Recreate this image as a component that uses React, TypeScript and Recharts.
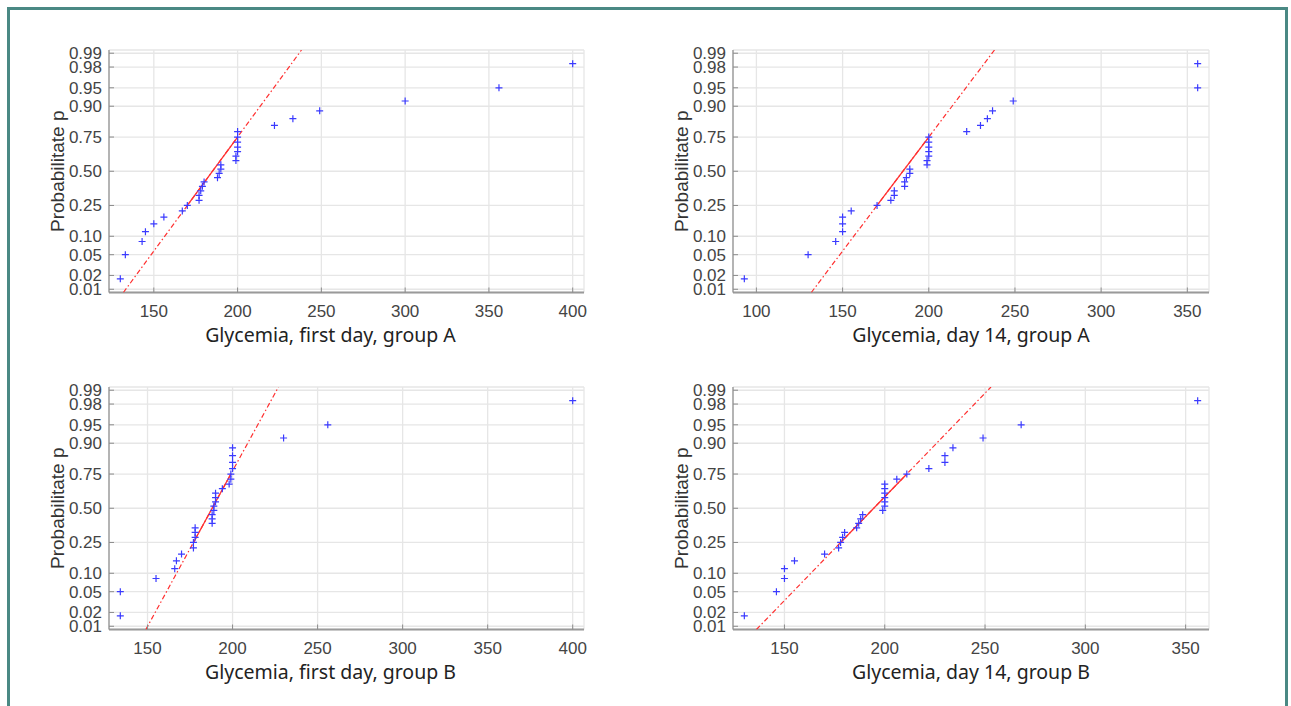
import React from 'react';
import { ScatterChart, Scatter, XAxis, YAxis, CartesianGrid } from 'recharts';

const probabilityLevels = [
  0.017, 0.05, 0.083, 0.117, 0.15, 0.183, 0.217, 0.25, 0.283, 0.317,
  0.35, 0.383, 0.417, 0.45, 0.483, 0.517, 0.55, 0.583, 0.617, 0.65,
  0.683, 0.717, 0.75, 0.783, 0.817, 0.85, 0.883, 0.917, 0.95, 0.983,
];

// Sorted glycemia values
const glycemiaFirstDayA = [
  130, 133, 143, 145, 150, 156, 167, 170, 177, 177,
  178, 179, 180, 188, 189, 190, 190, 199, 199, 200,
  200, 200, 200, 200, 222, 233, 249, 300, 356, 400,
];
const glycemiaDay14A = [
  93, 130, 146, 150, 150, 150, 155, 170, 178, 180,
  180, 186, 186, 187, 189, 189, 199, 199, 200, 200,
  200, 200, 200, 222, 230, 234, 237, 249, 356, 356,
];
const glycemiaFirstDayB = [
  134, 134, 155, 166, 167, 170, 177, 177, 178, 178,
  178, 188, 188, 188, 189, 189, 190, 190, 190, 194,
  198, 199, 199, 200, 200, 200, 200, 230, 256, 400,
];
const glycemiaDay14B = [
  130, 146, 150, 150, 155, 170, 177, 178, 179, 180,
  186, 187, 188, 189, 199, 200, 200, 200, 200, 200,
  200, 206, 211, 222, 230, 230, 234, 249, 268, 356,
];

const xTicksFirstDayA = [150, 200, 250, 300, 350, 400];
const xTicksDay14A = [100, 150, 200, 250, 300, 350];
const xTicksFirstDayB = [150, 200, 250, 300, 350, 400];
const xTicksDay14B = [150, 200, 250, 300, 350];

const yTickLabels = ['0.01', '0.02', '0.05', '0.10', '0.25', '0.50', '0.75', '0.90', '0.95', '0.98', '0.99'];

const titles = [
  'Glycemia, first day, group A',
  'Glycemia, day 14, group A',
  'Glycemia, first day, group B',
  'Glycemia, day 14, group B',
];
const yLabel = 'Probabilitate p';

// inverse standard normal CDF (normal probability axis)
function probit(p: number): number {
  const a = [-39.69683028665376, 220.9460984245205, -275.9285104469687, 138.357751867269, -30.66479806614716, 2.506628277459239];
  const b = [-54.47609879822406, 161.5858368580409, -155.6989798598866, 66.80131188771972, -13.28068155288572];
  const c = [-0.007784894002430293, -0.3223964580411365, -2.400758277161838, -2.549671348529838, 4.374664141464968, 2.938163982698783];
  const d = [0.007784695709041462, 0.3224671290700398, 2.445134137142996, 3.754408661907416];
  const pl = 0.02425;
  if (p < pl) {
    const q = Math.sqrt(-2 * Math.log(p));
    return (((((c[0] * q + c[1]) * q + c[2]) * q + c[3]) * q + c[4]) * q + c[5]) / ((((d[0] * q + d[1]) * q + d[2]) * q + d[3]) * q + 1);
  }
  if (p > 1 - pl) {
    const q = Math.sqrt(-2 * Math.log(1 - p));
    return -(((((c[0] * q + c[1]) * q + c[2]) * q + c[3]) * q + c[4]) * q + c[5]) / ((((d[0] * q + d[1]) * q + d[2]) * q + d[3]) * q + 1);
  }
  const q = p - 0.5;
  const r = q * q;
  return ((((((a[0] * r + a[1]) * r + a[2]) * r + a[3]) * r + a[4]) * r + a[5]) * q) / (((((b[0] * r + b[1]) * r + b[2]) * r + b[3]) * r + b[4]) * r + 1);
}

const Z_EDGE = 2.39;
const yTicks = yTickLabels.map((l) => probit(parseFloat(l)));
const formatY = (v: number) => {
  let best = 0;
  yTicks.forEach((t, i) => {
    if (Math.abs(t - v) < Math.abs(yTicks[best] - v)) best = i;
  });
  return yTickLabels[best];
};

const buildPoints = (values: number[]) => values.map((x, i) => ({ x, y: probit(probabilityLevels[i]) }));

const buildFit = (values: number[]) => {
  const i1 = probabilityLevels.indexOf(0.25);
  const i3 = probabilityLevels.indexOf(0.75);
  const q1 = values[i1];
  const q3 = values[i3];
  const z1 = probit(0.25);
  const z3 = probit(0.75);
  const slope = (q3 - q1) / (z3 - z1);
  const xAt = (z: number) => q1 + (z - z1) * slope;
  return {
    solid: [{ x: q1, y: z1 }, { x: q3, y: z3 }],
    full: [{ x: xAt(-Z_EDGE), y: -Z_EDGE }, { x: xAt(Z_EDGE), y: Z_EDGE }],
  };
};

const xDomain = (values: number[]): [number, number] => {
  const lo = Math.min(...values);
  const hi = Math.max(...values);
  const pad = (hi - lo) * 0.025;
  return [lo - pad, hi + pad];
};

const TICK_FONT = '"Liberation Sans", Arial, Helvetica, sans-serif';
const TICK_COLOR = '#444444';
const AXIS_COLOR = '#8c8c8c';

const YTick = (props: any) => {
  const { x, y, payload } = props;
  return (
    <g>
      <line x1={x + 7} x2={x + 12} y1={y} y2={y} stroke={AXIS_COLOR} strokeWidth={1} />
      <text x={x} y={y} dy={6} textAnchor="end" fontSize={17} fontFamily={TICK_FONT} fill={TICK_COLOR}>
        {formatY(payload.value)}
      </text>
    </g>
  );
};

const XTick = (props: any) => {
  const { x, y, payload } = props;
  return (
    <g>
      <line x1={x} x2={x} y1={y - 12} y2={y - 17} stroke={AXIS_COLOR} strokeWidth={1} />
      <text x={x} y={y} dy={12.5} textAnchor="middle" fontSize={17} fontFamily={TICK_FONT} fill={TICK_COLOR}>
        {payload.value}
      </text>
    </g>
  );
};

const PlusShape = (props: any) => {
  const { cx, cy } = props;
  if (cx == null || cy == null) return <g />;
  return (
    <path
      d={`M${cx - 3.5},${cy}H${cx + 3.5}M${cx},${cy - 3.5}V${cy + 3.5}`}
      stroke="#3a3aff"
      strokeWidth={1.2}
      fill="none"
    />
  );
};

const NoShape = () => <g />;

type PanelCfg = {
  values: number[];
  ticks: number[];
  title: string;
  left: number;
  top: number;
  right: number;
  titleShift: number;
};

const panels: PanelCfg[] = [
  { values: glycemiaFirstDayA, ticks: xTicksFirstDayA, title: titles[0], left: 0, top: 0, right: 16, titleShift: -16 },
  { values: glycemiaDay14A, ticks: xTicksDay14A, title: titles[1], left: 624, top: 0, right: 15, titleShift: 0 },
  { values: glycemiaFirstDayB, ticks: xTicksFirstDayB, title: titles[2], left: 0, top: 337, right: 16, titleShift: -16 },
  { values: glycemiaDay14B, ticks: xTicksDay14B, title: titles[3], left: 624, top: 337, right: 15, titleShift: 0 },
];

const CHART_W = 600;
const CHART_H = 370;

const Panel = ({ cfg }: { cfg: PanelCfg }) => {
  const points = buildPoints(cfg.values);
  const fit = buildFit(cfg.values);
  const titleContent = (p: any) => {
    const vb = p.viewBox;
    return (
      <text
        x={vb.x + vb.width / 2 + cfg.titleShift}
        y={vb.y + 49}
        textAnchor="middle"
        fontSize={19.5}
        fontFamily='"Noto Sans", "Open Sans", sans-serif'
        fill="#222222"
      >
        {cfg.title}
      </text>
    );
  };
  const yLabelContent = (p: any) => {
    const vb = p.viewBox;
    const cx = vb.x + vb.width - 52;
    const cy = vb.y + vb.height / 2;
    return (
      <text
        x={cx}
        y={cy}
        transform={`rotate(-90, ${cx}, ${cy})`}
        textAnchor="middle"
        dominantBaseline="central"
        fontSize={19}
        fontFamily={TICK_FONT}
        fill="#333333"
      >
        {yLabel}
      </text>
    );
  };
  return (
    <div style={{ position: 'absolute', left: cfg.left, top: cfg.top }}>
      <ScatterChart
        width={CHART_W}
        height={CHART_H}
        margin={{ top: 50, right: cfg.right, bottom: 27.5, left: 0 }}
      >
        <CartesianGrid stroke="#e6e6e6" strokeWidth={1.3} />
        <XAxis
          type="number"
          dataKey="x"
          domain={xDomain(cfg.values)}
          ticks={cfg.ticks}
          allowDataOverflow
          height={50}
          tickSize={0}
          tickMargin={12}
          tick={<XTick />}
          axisLine={{ stroke: '#9a9a9a', strokeWidth: 2 }}
          tickLine={false}
          interval={0}
          label={{ content: titleContent }}
        />
        <YAxis
          type="number"
          dataKey="y"
          domain={[-Z_EDGE, Z_EDGE]}
          ticks={yTicks}
          allowDataOverflow
          width={109}
          tickSize={0}
          tickMargin={7}
          tick={<YTick />}
          axisLine={{ stroke: AXIS_COLOR, strokeWidth: 1.2 }}
          tickLine={false}
          interval={0}
          label={{ content: yLabelContent }}
        />
        <Scatter
          data={fit.full}
          line={{ stroke: '#ff3030', strokeWidth: 1.2, strokeDasharray: '5 2.5 1.5 2.5' }}
          shape={NoShape}
          isAnimationActive={false}
        />
        <Scatter
          data={fit.solid}
          line={{ stroke: '#ff3030', strokeWidth: 1.3 }}
          shape={NoShape}
          isAnimationActive={false}
        />
        <Scatter data={points} shape={PlusShape} isAnimationActive={false} />
      </ScatterChart>
    </div>
  );
}

export default function App() {
  return (
    <div
      style={{
        position: 'absolute',
        left: 0,
        top: 0,
        width: 1291,
        height: 706,
        overflow: 'hidden',
        background: '#ffffff',
      }}
    >
      <div
        style={{
          position: 'absolute',
          left: 7,
          top: 7,
          width: 1281,
          height: 730,
          boxSizing: 'border-box',
          border: '3px solid #4a8984',
        }}
      />
      {panels.map((cfg, i) => (
        <Panel key={i} cfg={cfg} />
      ))}
    </div>
  );
}
